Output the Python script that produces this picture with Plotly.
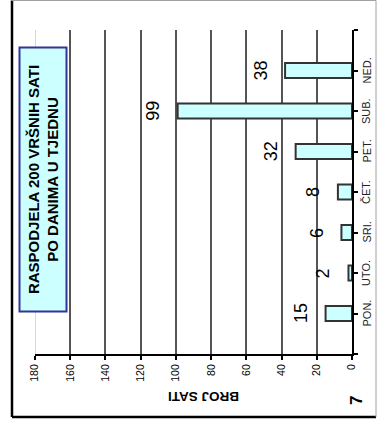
import plotly.graph_objects as go

# ---- data ----
days = ["PON.", "UTO.", "SRI.", "ČET.", "PET.", "SUB.", "NED."]
hours = [15, 2, 6, 8, 32, 99, 38]
value_ticks = [0, 20, 40, 60, 80, 100, 120, 140, 160, 180]
title_lines = ["RASPODJELA 200 VRŠNIH SATI", "PO DANIMA U TJEDNU"]
axis_title = "BROJ SATI"
page_no = "7"

W, H = 377, 427
ML, MR, MT, MB = 35, 25, 30, 73
PW, PH = W - ML - MR, H - MT - MB


def px(x):
    return (x - ML) / PW


def py(y):
    return (H - MB - y) / PH


FONT = "Arial, Liberation Sans, sans-serif"
pos = list(range(len(days)))

fig = go.Figure()
fig.add_trace(go.Bar(
    x=hours, y=pos, orientation="h", width=0.37,
    marker=dict(color="#CCFFFF", line=dict(color="#333333", width=2)),
    hoverinfo="skip",
))

annotations = []
for v, p in zip(hours, pos):
    annotations.append(dict(
        x=v, y=p, xref="x", yref="y", text=str(v), showarrow=False,
        textangle=-90, xanchor="right", yanchor="middle", xshift=-13,
        font=dict(family=FONT, size=18, color="black"),
    ))
for d, p in zip(days, pos):
    annotations.append(dict(
        x=px(366), y=p, xref="paper", yref="y", text=d, showarrow=False,
        textangle=-90, xanchor="center", yanchor="middle",
        font=dict(family=FONT, size=11, color="#222222"),
    ))

annotations.append(dict(
    x=px(43.5), y=py(180), xref="paper", yref="paper",
    text="<b>" + "<br>".join(title_lines) + "</b>", showarrow=False,
    textangle=-90, xanchor="center", yanchor="middle",
    bgcolor="#CCFFFF", bordercolor="#333399", borderwidth=2, borderpad=2,
    width=258, height=41,
    font=dict(family=FONT, size=15, color="black"),
))
annotations.append(dict(
    x=px(204), y=py(396), xref="paper", yref="paper",
    text="<b>" + axis_title + "</b>", showarrow=False, textangle=180,
    xanchor="center", yanchor="middle",
    font=dict(family=FONT, size=13.5, color="black"),
))
annotations.append(dict(
    x=px(356), y=py(401), xref="paper", yref="paper",
    text="<b>" + page_no + "</b>", showarrow=False, textangle=-90,
    xanchor="center", yanchor="middle",
    font=dict(family=FONT, size=17, color="black"),
))

shapes = [
    dict(type="line", xref="x", yref="paper", x0=value_ticks[-1], x1=value_ticks[-1],
         y0=0, y1=1, line=dict(color="#D8D8D8", width=2), layer="above"),
    dict(type="line", xref="paper", yref="paper", x0=px(12), x1=px(12), y0=py(0.5), y1=py(417),
         line=dict(color="black", width=2.5)),
    dict(type="line", xref="paper", yref="paper", x0=px(12), x1=px(376), y0=py(417), y1=py(417),
         line=dict(color="black", width=2.5)),
    dict(type="line", xref="paper", yref="paper", x0=px(12), x1=px(376), y0=py(0.5), y1=py(0.5),
         line=dict(color="#A0A0A0", width=1)),
    dict(type="line", xref="paper", yref="paper", x0=px(376), x1=px(376), y0=py(0.5), y1=py(417),
         line=dict(color="#A0A0A0", width=1)),
]

fig.update_layout(
    width=W, height=H, margin=dict(l=ML, r=MR, t=MT, b=MB, autoexpand=False),
    paper_bgcolor="white", plot_bgcolor="white", showlegend=False,
    bargap=0, annotations=annotations, shapes=shapes,
    xaxis=dict(
        range=[value_ticks[-1], value_ticks[0]], tickvals=value_ticks,
        ticktext=[str(t) for t in value_ticks], tickangle=-90,
        ticks="outside", ticklen=4, tickwidth=2, tickcolor="black",
        showline=True, linecolor="black", linewidth=2, automargin=False,
        showgrid=True, gridcolor="#555555", gridwidth=2, zeroline=False,
        tickfont=dict(family=FONT, size=10.5, color="black"),
    ),
    yaxis=dict(
        range=[-1, len(days)], side="right",
        tickvals=[-1] + pos + [len(days)], showticklabels=False,
        ticks="outside", ticklen=4, tickwidth=2, tickcolor="black",
        showline=True, linecolor="black", linewidth=2, automargin=False,
        showgrid=False, zeroline=False,
    ),
)

fig.write_html(
    "out.html",
    config={"displayModeBar": False, "staticPlot": True},
    post_script="document.body.style.margin='0';document.body.style.overflow='hidden';",
)
